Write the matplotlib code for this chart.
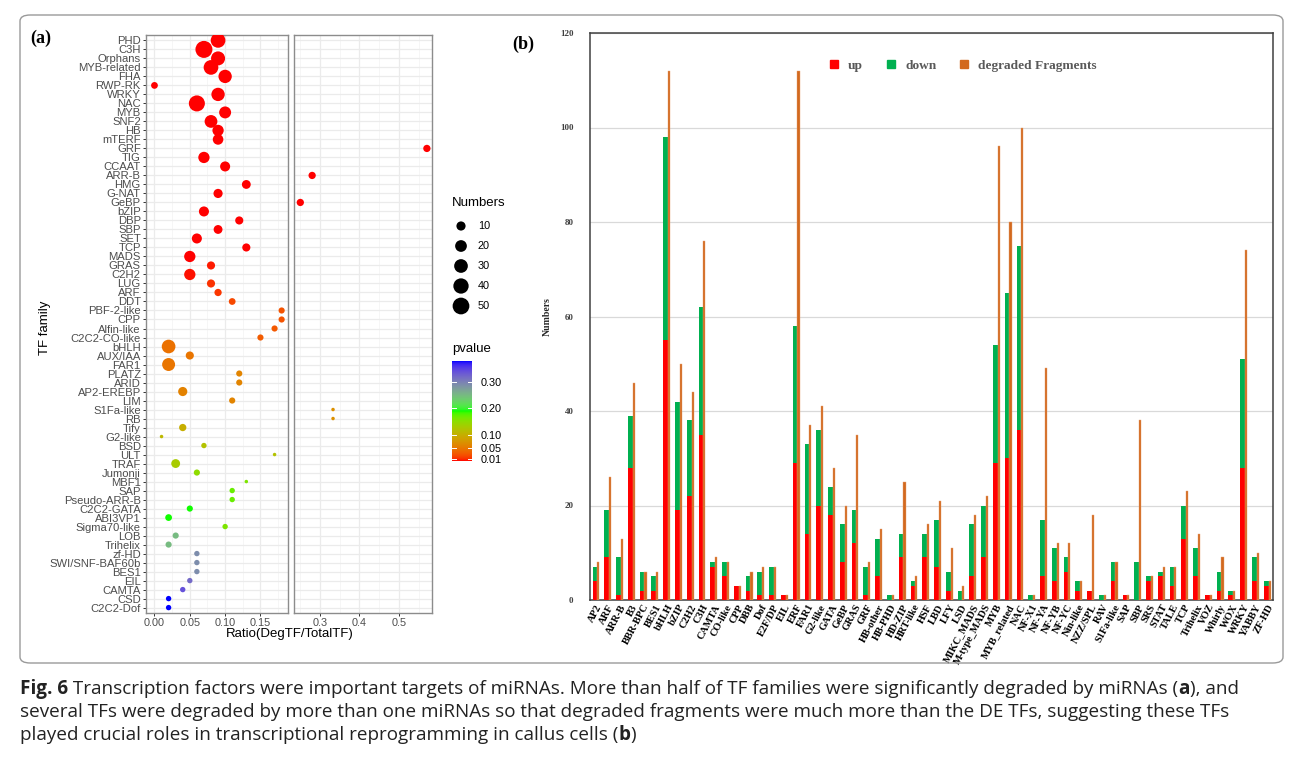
import numpy as np
import matplotlib
matplotlib.use('Agg')
import matplotlib.pyplot as plt
from matplotlib.colors import ListedColormap, Normalize
from matplotlib.patches import FancyBboxPatch
from matplotlib.lines import Line2D

# ---- painel (a): TF families ----
familias = ['PHD', 'C3H', 'Orphans', 'MYB-related', 'FHA', 'RWP-RK', 'WRKY', 'NAC', 'MYB', 'SNF2',
            'HB', 'mTERF', 'GRF', 'TIG', 'CCAAT', 'ARR-B', 'HMG', 'G-NAT', 'GeBP', 'bZIP',
            'DBP', 'SBP', 'SET', 'TCP', 'MADS', 'GRAS', 'C2H2', 'LUG', 'ARF', 'DDT',
            'PBF-2-like', 'CPP', 'Alfin-like', 'C2C2-CO-like', 'bHLH', 'AUX/IAA', 'FAR1', 'PLATZ', 'ARID', 'AP2-EREBP',
            'LIM', 'S1Fa-like', 'RB', 'Tify', 'G2-like', 'BSD', 'ULT', 'TRAF', 'Jumonji', 'MBF1',
            'SAP', 'Pseudo-ARR-B', 'C2C2-GATA', 'ABI3VP1', 'Sigma70-like', 'LOB', 'Trihelix', 'zf-HD', 'SWI/SNF-BAF60b', 'BES1',
            'EIL', 'CAMTA', 'CSD', 'C2C2-Dof']
razao = [0.09, 0.07, 0.09, 0.08, 0.10, 0.00, 0.09, 0.06, 0.10, 0.08,
         0.09, 0.09, 0.571, 0.07, 0.10, 0.28, 0.13, 0.09, 0.25, 0.07,
         0.12, 0.09, 0.06, 0.13, 0.05, 0.08, 0.05, 0.08, 0.09, 0.11,
         0.18, 0.18, 0.17, 0.15, 0.02, 0.05, 0.02, 0.12, 0.12, 0.04,
         0.11, 0.333, 0.333, 0.04, 0.01, 0.07, 0.17, 0.03, 0.06, 0.13,
         0.11, 0.11, 0.05, 0.02, 0.10, 0.03, 0.02, 0.06, 0.06, 0.06,
         0.05, 0.04, 0.02, 0.02]
numeros = [36, 52, 32, 36, 28, 4, 28, 45, 21, 25,
           18, 15, 5, 18, 13, 5, 9, 10, 5, 13,
           7, 9, 13, 7, 18, 7, 18, 7, 5, 4,
           3, 3, 3, 3, 30, 7, 26, 3, 3, 10,
           3, 1, 1, 5, 1, 2, 1, 9, 3, 1,
           2, 2, 3, 4, 2, 3, 3, 2, 2, 2,
           2, 2, 2, 2]
pvalor = [0.001, 0.001, 0.001, 0.001, 0.001, 0.001, 0.001, 0.001, 0.001, 0.001,
          0.001, 0.001, 0.001, 0.001, 0.001, 0.001, 0.001, 0.001, 0.001, 0.001,
          0.001, 0.001, 0.001, 0.001, 0.002, 0.004, 0.003, 0.010, 0.012, 0.020,
          0.025, 0.025, 0.028, 0.030, 0.045, 0.048, 0.048, 0.060, 0.060, 0.058,
          0.060, 0.070, 0.070, 0.100, 0.110, 0.120, 0.120, 0.130, 0.150, 0.160,
          0.170, 0.170, 0.190, 0.190, 0.160, 0.250, 0.250, 0.290, 0.290, 0.290,
          0.320, 0.340, 0.380, 0.380]

# ---- painel (b): stacked up/down + degraded fragments ----
tfs = ['AP2', 'ARF', 'ARR-B', 'B3', 'BBR-BPC', 'BES1', 'bHLH', 'bZIP', 'C2H2', 'C3H',
       'CAMTA', 'CO-like', 'CPP', 'DBB', 'Dof', 'E2F/DP', 'EIL', 'ERF', 'FAR1', 'G2-like',
       'GATA', 'GeBP', 'GRAS', 'GRF', 'HB-other', 'HB-PHD', 'HD-ZIP', 'HRT-like', 'HSF', 'LBD',
       'LFY', 'LSD', 'MIKC_MADS', 'M-type_MADS', 'MYB', 'MYB_related', 'NAC', 'NF-X1', 'NF-YA', 'NF-YB',
       'NF-YC', 'Nin-like', 'NZZ/SPL', 'RAV', 'S1Fa-like', 'SAP', 'SBP', 'SRS', 'STAT', 'TALE',
       'TCP', 'Trihelix', 'VOZ', 'Whirly', 'WOX', 'WRKY', 'YABBY', 'ZF-HD']
up = [4, 9, 1, 28, 2, 2, 55, 19, 22, 35,
      7, 5, 3, 2, 1, 1, 1, 29, 14, 20,
      18, 8, 12, 1, 5, 0, 9, 3, 9, 7,
      2, 0, 5, 9, 29, 30, 36, 0, 5, 4,
      6, 2, 2, 0, 4, 1, 0, 4, 5, 3,
      13, 5, 1, 2, 1, 28, 4, 3]
down = [3, 10, 8, 11, 4, 3, 43, 23, 16, 27,
        1, 3, 0, 3, 5, 6, 0, 29, 19, 16,
        6, 8, 7, 6, 8, 1, 5, 1, 5, 10,
        4, 2, 11, 11, 25, 35, 39, 1, 12, 7,
        3, 2, 0, 1, 4, 0, 8, 1, 1, 4,
        7, 6, 0, 4, 1, 23, 5, 1]
degradados = [8, 26, 13, 46, 6, 6, 112, 50, 44, 76,
              9, 8, 3, 6, 7, 7, 1, 112, 37, 41,
              28, 20, 35, 8, 15, 1, 25, 5, 16, 21,
              11, 3, 18, 22, 96, 80, 100, 1, 49, 12,
              12, 4, 18, 1, 8, 1, 38, 5, 7, 7,
              23, 14, 1, 9, 2, 74, 10, 4]

W, H = 1290, 759


def caixa(x0, y0, x1, y1):
    # pixel box (origin top-left) -> figure fraction rect
    return [x0 / W, 1 - y1 / H, (x1 - x0) / W, (y1 - y0) / H]


def srgb_para_lab(rgb):
    rgb = np.asarray(rgb, float)
    lin = np.where(rgb <= 0.04045, rgb / 12.92, ((rgb + 0.055) / 1.055) ** 2.4)
    m = np.array([[0.4124, 0.3576, 0.1805], [0.2126, 0.7152, 0.0722], [0.0193, 0.1192, 0.9505]])
    xyz = lin @ m.T / np.array([0.95047, 1.0, 1.08883])
    f = np.where(xyz > 0.008856, np.cbrt(xyz), 7.787 * xyz + 16 / 116)
    return np.stack([116 * f[..., 1] - 16, 500 * (f[..., 0] - f[..., 1]), 200 * (f[..., 1] - f[..., 2])], -1)


def lab_para_srgb(lab):
    fy = (lab[..., 0] + 16) / 116
    fx = fy + lab[..., 1] / 500
    fz = fy - lab[..., 2] / 200
    f = np.stack([fx, fy, fz], -1)
    xyz = np.where(f ** 3 > 0.008856, f ** 3, (f - 16 / 116) / 7.787) * np.array([0.95047, 1.0, 1.08883])
    mi = np.array([[3.2406, -1.5372, -0.4986], [-0.9689, 1.8758, 0.0415], [0.0557, -0.2040, 1.0570]])
    lin = np.clip(xyz @ mi.T, 0, 1)
    rgb = np.where(lin <= 0.0031308, 12.92 * lin, 1.055 * lin ** (1 / 2.4) - 0.055)
    return np.clip(rgb, 0, 1)


# red -> green -> blue gradient interpolated in Lab (like ggplot gradientn)
paradas = srgb_para_lab(np.array([[1, 0, 0], [0, 1, 0], [0, 0, 1]], float))
t = np.linspace(0, 1, 256)
lab = np.stack([np.interp(t, [0, 0.5, 1], paradas[:, k]) for k in range(3)], -1)
cmap_p = ListedColormap(lab_para_srgb(lab))
norma = Normalize(min(pvalor), max(pvalor))


def diametro(n):
    n = np.asarray(n, float)
    return 3.5 + 13.5 * np.sqrt((n - 1) / 51.0)


def area_pt(n):
    return (diametro(n) * 72 / 100) ** 2


plt.rcParams['font.family'] = ['Liberation Sans', 'DejaVu Sans']
fig = plt.figure(figsize=(W / 100, H / 100), dpi=100)

cinza_txt = '#4D4D4D'
y = np.arange(len(familias))

ax1 = fig.add_axes(caixa(146, 35, 288, 613))
ax2 = fig.add_axes(caixa(294, 35, 432, 613), sharey=ax1)
for ax, lim, maj, mino in [(ax1, (-0.012, 0.189), [0, 0.05, 0.10, 0.15], [0.025, 0.075, 0.125, 0.175]),
                          (ax2, (0.234, 0.584), [0.3, 0.4, 0.5], [0.25, 0.35, 0.45, 0.55])]:
    ax.set_xlim(*lim)
    ax.set_xticks(maj)
    ax.set_xticks(mino, minor=True)
    ax.grid(True, which='major', color='#EBEBEB', lw=0.9)
    ax.grid(True, which='minor', axis='x', color='#F3F3F3', lw=0.5)
    ax.set_axisbelow(True)
    for s in ax.spines.values():
        s.set_color('#8C8C8C')
        s.set_linewidth(1.0)
    ax.tick_params(which='major', length=2.5, width=0.7, color='#333333', labelcolor=cinza_txt, labelsize=8.1, pad=1.2)
    ax.tick_params(which='minor', length=0)
    sel = [(v < 0.2) if ax is ax1 else (v > 0.2) for v in razao]
    idx = np.where(sel)[0]
    ax.scatter(np.array(razao)[idx], y[idx], s=area_pt(np.array(numeros)[idx]),
               c=np.array(pvalor)[idx], cmap=cmap_p, norm=norma, linewidths=0, zorder=3)

ax1.set_xticklabels(['0.00', '0.05', '0.10', '0.15'])
ax2.set_xticklabels(['0.3', '0.4', '0.5'])
ax1.tick_params(axis='x', labelsize=7.8, pad=0.8)
ax2.tick_params(axis='x', labelsize=7.8, pad=0.8)
ax1.set_yticks(y)
ax1.set_yticklabels(familias)
ax1.set_ylim(len(familias) - 0.4, -0.6)
ax2.tick_params(axis='y', left=False, labelleft=False)
fig.text(45 / W, 1 - 328 / H, 'TF family', rotation=90, ha='center', va='center', fontsize=9.5)
fig.text(290 / W, 1 - 634 / H, 'Ratio(DegTF/TotalTF)', ha='center', va='center', fontsize=9.5)

# legend: Numbers
fig.text(452 / W, 1 - 203 / H, 'Numbers', ha='left', va='center', fontsize=9.5)
axl = fig.add_axes(caixa(440, 215, 520, 318))
axl.set_xlim(440, 520)
axl.set_ylim(318, 215)
axl.axis('off')
niveis = [10, 20, 30, 40, 50]
ys_leg = [226, 246, 266, 286, 306]
axl.scatter([461] * 5, ys_leg, s=area_pt(niveis), c='black', linewidths=0)
for nv, yl in zip(niveis, ys_leg):
    axl.text(478, yl, str(nv), ha='left', va='center', fontsize=7.8, color='black')

# legend: pvalue colorbar
fig.text(452 / W, 1 - 349 / H, 'pvalue', ha='left', va='center', fontsize=9.5)
axc = fig.add_axes(caixa(452, 361, 472, 461))
grad = np.linspace(norma.vmin, norma.vmax, 256).reshape(-1, 1)
axc.imshow(grad, cmap=cmap_p, norm=norma, aspect='auto', origin='lower',
           extent=[0, 1, norma.vmin, norma.vmax])
axc.set_xticks([])
cb_ticks = [0.01, 0.05, 0.10, 0.20, 0.30]
axc.set_yticks(cb_ticks)
axc.set_yticklabels(['0.01', '0.05', '0.10', '0.20', '0.30'])
axc.yaxis.tick_right()
axc.tick_params(axis='y', length=0, labelsize=7.8, pad=6, labelcolor='black')
for tk in cb_ticks:
    axc.plot([0, 0.2], [tk, tk], color='white', lw=0.7)
    axc.plot([0.8, 1], [tk, tk], color='white', lw=0.7)
for s in axc.spines.values():
    s.set_visible(False)

# ---- painel (b) ----
serif = ['Liberation Serif', 'DejaVu Serif']
axb = fig.add_axes(caixa(590, 33, 1273, 600))
xb = np.arange(len(tfs))
axb.bar(xb - 0.08, up, width=0.4, color='#FF0000', zorder=3)
axb.bar(xb - 0.08, down, bottom=up, width=0.4, color='#00B050', zorder=3)
axb.bar(xb + 0.21, degradados, width=0.18, color='#D2691E', edgecolor='#E8A070', linewidth=0.3, zorder=3)
axb.set_xlim(-0.5, len(tfs) - 0.5)
axb.set_ylim(0, 120)
axb.set_yticks(range(0, 121, 20))
axb.yaxis.grid(True, color='#D9D9D9', lw=0.9)
axb.set_axisbelow(True)
for s in axb.spines.values():
    s.set_color('#404040')
    s.set_linewidth(1.1)
axb.tick_params(axis='y', length=0, labelsize=6.5, pad=12, labelcolor='#404040')
axb.tick_params(axis='x', length=0, pad=2)
axb.set_xticks(xb)
axb.set_xticklabels(tfs, rotation=62, ha='right', rotation_mode='anchor', family=serif,
                    fontweight='bold', fontsize=7.4)
for lab_y in axb.get_yticklabels():
    lab_y.set_family(serif)
    lab_y.set_fontweight('bold')
axb.set_ylabel('Numbers', family=serif, fontweight='bold', fontsize=7, color='#262626', labelpad=6)
alcas = [Line2D([], [], marker='s', ls='', color=c, markersize=6) for c in ['#FF0000', '#00B050', '#D2691E']]
leg = axb.legend(alcas, ['up', 'down', 'degraded Fragments'], ncol=3, loc='center', bbox_to_anchor=(0.54, 0.942),
                 frameon=False, handletextpad=0.05, columnspacing=1.1,
                 prop={'family': serif, 'weight': 'bold', 'size': 9.6})
for tx in leg.get_texts():
    tx.set_color('#595959')

# panel letters
fig.text(30 / W, 1 - 38 / H, '(a)', family=serif, fontweight='bold', fontsize=13, va='center', ha='left')
fig.text(512 / W, 1 - 44 / H, '(b)', family=serif, fontweight='bold', fontsize=13, va='center', ha='left')

# frame around the figure
moldura = FancyBboxPatch((20 / W, 1 - 663 / H), 1263 / W, 648 / H,
                         boxstyle='round,pad=0,rounding_size=0.008', transform=fig.transFigure,
                         fill=False, edgecolor='#9A9A9A', lw=1.0)
fig.patches.append(moldura)

# caption with mixed weights
renderer = fig.canvas.get_renderer()


def linha_mista(x, yy, partes):
    for s, peso in partes:
        tx = fig.text(x, yy, s, fontweight=peso, fontsize=13.6, family=['Open Sans', 'DejaVu Sans'],
                      color='#222222', va='baseline', ha='left')
        x += tx.get_window_extent(renderer).width / W


linha_mista(20 / W, 1 - 694 / H, [('Fig. 6', 'bold'),
                                  (' Transcription factors were important targets of miRNAs. More than half of TF families were significantly degraded by miRNAs (', 'normal'),
                                  ('a', 'bold'), ('), and', 'normal')])
linha_mista(20 / W, 1 - 717 / H, [('several TFs were degraded by more than one miRNAs so that degraded fragments were much more than the DE TFs, suggesting these TFs', 'normal')])
linha_mista(20 / W, 1 - 740 / H, [('played crucial roles in transcriptional reprogramming in callus cells (', 'normal'),
                                  ('b', 'bold'), (')', 'normal')])

fig.savefig('out.png', dpi=100)
